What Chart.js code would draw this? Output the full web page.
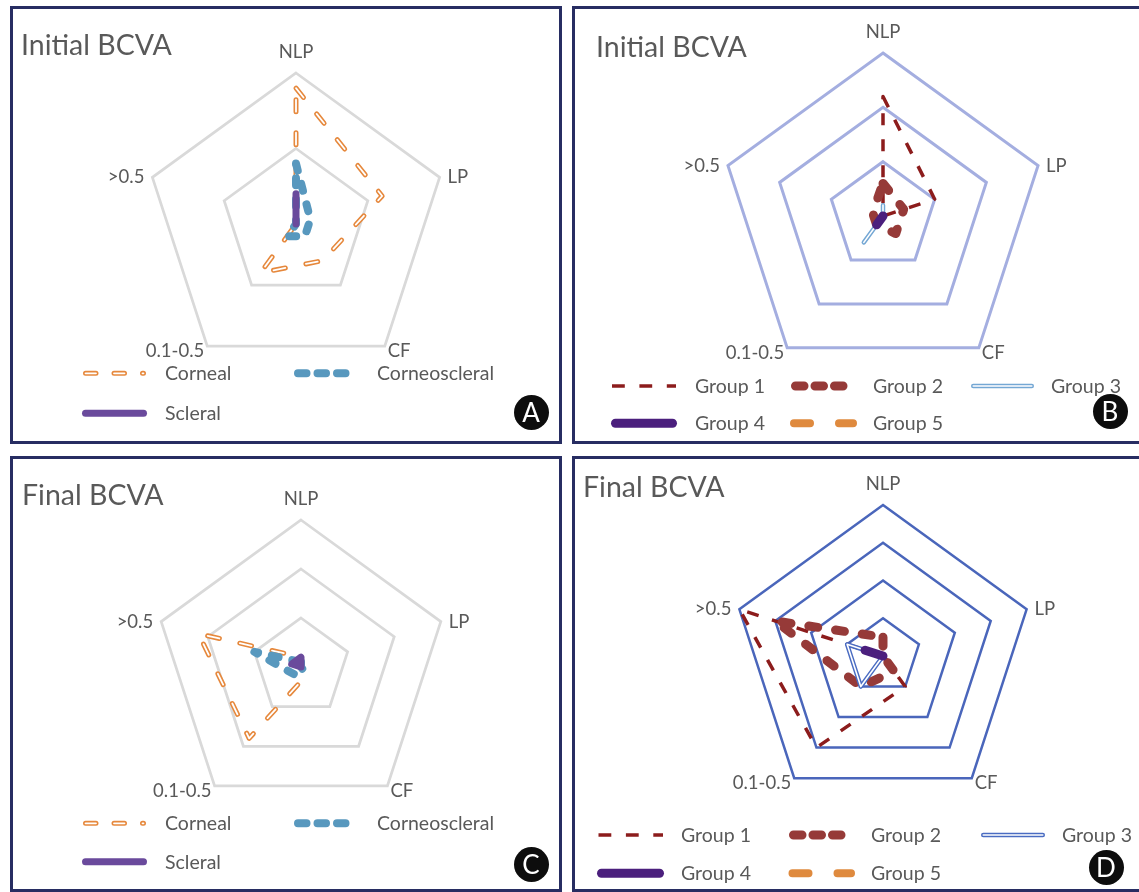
<!DOCTYPE html>
<html>
<head>
<meta charset="utf-8">
<title>BCVA radar charts</title>
<script src="https://cdn.jsdelivr.net/npm/chart.js@4.4.1/dist/chart.umd.min.js"></script>
<style>
  html, body { margin: 0; padding: 0; background: #fff; }
  body { width: 1139px; height: 892px; position: relative; overflow: hidden;
         font-family: Lato, "Noto Sans", sans-serif; color: #595959; }
  .panel { position: absolute; box-sizing: border-box; border: 3px solid #272d62; }
  canvas.radar { position: absolute; z-index: 1; }
  .title { position: absolute; z-index: 2; font-size: 28.5px; line-height: 36px; white-space: nowrap; }
  .leg { position: absolute; z-index: 2; font-size: 19.5px; line-height: 24px; white-space: nowrap; }
  .badge { position: absolute; z-index: 2; width: 35px; height: 35px; border-radius: 50%;
           background: #0d0d0d; color: #fff; font-size: 26px; line-height: 35px; text-align: center; }
</style>
</head>
<body>
<script>
// ---- data -------------------------------------------------------------
const axisLabels = ['NLP', 'LP', 'CF', '0.1-0.5', '>0.5'];

// patients per BCVA category, by injury zone
const cornealInitial       = [18, 12, 6, 8, 0];
const corneoscleralInitial = [8, 2, 2, 2, 0];
const scleralInitial       = [4, 0, 0, 0, 0];
const cornealFinal         = [2, 0, 2, 18, 22];
const corneoscleralFinal   = [1, 0, 1, 2, 10];
const scleralFinal         = [2, 0, 0, 0, 2];

// patients per BCVA category, by group
const group1Initial = [11, 5, 0, 0, 0];
const group2Initial = [3, 2, 2, 1, 1];
const group3Initial = [1, 0, 0, 3, 0];
const group4Initial = [0, 0, 0, 1, 0];
const group5Initial = [0, 0, 0, 0, 0];
const group1Final   = [0, 0, 2, 6, 8];
const group2Final   = [1, 0, 1, 2, 6];
const group3Final   = [0, 0, 0, 2, 2];
const group4Final   = [0, 0, 0, 0, 1];
const group5Final   = [0, 0, 0, 0, 0];

// ---- line styles ------------------------------------------------------
const styles = {
  corneal:       { color: '#e6883c', width: 5,   cap: 'round', dash: [12, 21], legendDash: [10.5, 18], inner: { color: '#ffffff', width: 1.8 } },
  corneoscleral: { color: '#5898be', width: 8,   cap: 'round', dash: [7, 14],  legendDash: [8.5, 11] },
  scleral:       { color: '#6a4a9c', width: 7,   cap: 'round', dash: [] },
  group1:        { color: '#8c1c1c', width: 3.5, cap: 'butt',  dash: [12, 14], legendDash: [12.8, 14.6] },
  group2:        { color: '#963a38', width: 9,   cap: 'round', dash: [9, 18],  legendDash: [8.5, 11] },
  group3B:       { color: '#74a7d4', width: 4.5, cap: 'round', dash: [], inner: { color: '#ffffff', width: 1.6 } },
  group3D:       { color: '#4a6cc2', width: 4.5, cap: 'round', dash: [], inner: { color: '#ffffff', width: 1.6 } },
  group4:        { color: '#4b1f7d', width: 9,   cap: 'round', dash: [] },
  group5:        { color: '#df8a3e', width: 8,   cap: 'round', dash: [16, 29], legendDash: [16, 29] }
};

// ---- panel layout (page pixels) ---------------------------------------
const panels = [
  { id: 'A', rect: { x: 10, y: 6, w: 552, h: 438 }, cx: 296, cy: 224, R: 151, max: 20, step: 10,
    grid: { color: '#d9d9d9', width: 2.75 },
    title: { text: 'Initial BCVA', x: 21, cy: 43.5 }, badge: { x: 531, y: 412 },
    series: [
      { label: 'Corneal', data: cornealInitial, style: styles.corneal, leg: { x0: 83, x1: 146, y: 373.3, tx: 165 } },
      { label: 'Corneoscleral', data: corneoscleralInitial, style: styles.corneoscleral, leg: { x0: 294, x1: 360, y: 373.3, tx: 377 } },
      { label: 'Scleral', data: scleralInitial, style: styles.scleral, leg: { x0: 82, x1: 147, y: 413.3, tx: 165 } }
    ] },
  { id: 'B', rect: { x: 572, y: 6, w: 572, h: 438 }, cx: 883, cy: 216, R: 163, max: 15, step: 5,
    grid: { color: '#a4aee0', width: 3 },
    title: { text: 'Initial BCVA', x: 596, cy: 46 }, badge: { x: 1110, y: 411 },
    series: [
      { label: 'Group 1', data: group1Initial, style: styles.group1, leg: { x0: 612, x1: 676, y: 386, tx: 695 } },
      { label: 'Group 2', data: group2Initial, style: styles.group2, leg: { x0: 791, x1: 857, y: 386, tx: 873 } },
      { label: 'Group 3', data: group3Initial, style: styles.group3B, leg: { x0: 971, x1: 1034, y: 386, tx: 1051 } },
      { label: 'Group 4', data: group4Initial, style: styles.group4, leg: { x0: 611, x1: 677, y: 423.3, tx: 695 } },
      { label: 'Group 5', data: group5Initial, style: styles.group5, leg: { x0: 790, x1: 857, y: 423.3, tx: 873 } }
    ] },
  { id: 'C', rect: { x: 10, y: 456, w: 552, h: 436 }, cx: 301, cy: 667, R: 147, max: 30, step: 10,
    grid: { color: '#d9d9d9', width: 2.75 },
    title: { text: 'Final BCVA', x: 22, cy: 494 }, badge: { x: 531, y: 864 },
    series: [
      { label: 'Corneal', data: cornealFinal, style: styles.corneal, leg: { x0: 83, x1: 146, y: 823.3, tx: 165 } },
      { label: 'Corneoscleral', data: corneoscleralFinal, style: styles.corneoscleral, leg: { x0: 294, x1: 360, y: 823.3, tx: 377 } },
      { label: 'Scleral', data: scleralFinal, style: styles.scleral, leg: { x0: 82, x1: 147, y: 861.7, tx: 165 } }
    ] },
  { id: 'D', rect: { x: 572, y: 456, w: 572, h: 436 }, cx: 883, cy: 656, R: 151, max: 8, step: 2,
    grid: { color: '#4a66bb', width: 2.5 },
    title: { text: 'Final BCVA', x: 583, cy: 486 }, badge: { x: 1106, y: 867 },
    series: [
      { label: 'Group 1', data: group1Final, style: styles.group1, leg: { x0: 598.5, x1: 663, y: 835, tx: 681 } },
      { label: 'Group 2', data: group2Final, style: styles.group2, leg: { x0: 789, x1: 855, y: 835, tx: 871 } },
      { label: 'Group 3', data: group3Final, style: styles.group3D, leg: { x0: 981, x1: 1045, y: 835, tx: 1062 } },
      { label: 'Group 4', data: group4Final, style: styles.group4, leg: { x0: 597, x1: 664, y: 873.3, tx: 681 } },
      { label: 'Group 5', data: group5Final, style: styles.group5, leg: { x0: 788.5, x1: 855, y: 873.3, tx: 871 } }
    ] }
];

// ---- helpers ----------------------------------------------------------
function addDiv(cls, text, left, top) {
  const d = document.createElement('div');
  d.className = cls;
  d.textContent = text;
  d.style.left = left + 'px';
  d.style.top = top + 'px';
  document.body.appendChild(d);
  return d;
}

// one dataset per series; double (compound) lines get a white core on top
function buildDatasets(series) {
  const out = [];
  const n = series.length;
  series.forEach((s, i) => {
    const st = s.style;
    const base = {
      label: s.label, data: s.data,
      borderColor: st.color, borderWidth: st.width, borderDash: st.dash,
      borderCapStyle: st.cap, borderJoinStyle: 'round',
      backgroundColor: 'transparent', fill: false,
      pointRadius: 0, pointHoverRadius: 0, pointHitRadius: 0,
      order: (n - i) * 2
    };
    out.push(base);
    if (st.inner) {
      out.push(Object.assign({}, base, {
        borderColor: st.inner.color, borderWidth: st.inner.width, order: (n - i) * 2 - 1
      }));
    }
  });
  return out;
}

function strokeSample(ctx, st, x0, x1, y) {
  const layers = [{ color: st.color, width: st.width }];
  if (st.inner) layers.push(st.inner);
  const inset = st.cap === 'butt' ? 0 : st.width / 2;
  layers.forEach(l => {
    ctx.save();
    ctx.strokeStyle = l.color;
    ctx.lineWidth = l.width;
    ctx.lineCap = st.cap;
    ctx.setLineDash(st.legendDash || st.dash || []);
    ctx.beginPath();
    ctx.moveTo(x0 + inset, y);
    ctx.lineTo(x1 - inset, y);
    ctx.stroke();
    ctx.restore();
  });
}

// category names at the pentagon vertices, Office-style placement
const vertexLabels = {
  id: 'vertexLabels',
  afterDatasetsDraw(chart, args, opts) {
    const r = chart.scales.r;
    const ctx = chart.ctx;
    const n = chart.data.labels.length;
    ctx.save();
    ctx.font = opts.font;
    ctx.fillStyle = opts.color;
    ctx.textBaseline = 'middle';
    chart.data.labels.forEach((lab, i) => {
      const p = r.getPointPosition(i, r.drawingArea);
      const a = i * 360 / n;
      let x = p.x, y = p.y, align = 'center';
      if (a === 0) { y -= opts.top; }
      else if (a < 90) { align = 'left'; x += opts.side; }
      else if (a < 180) { align = 'left'; x += opts.bottomX; y += opts.bottomY; }
      else if (a < 270) { align = 'right'; x -= opts.bottomX; y += opts.bottomY; }
      else { align = 'right'; x -= opts.side; }
      ctx.textAlign = align;
      ctx.fillText(lab, x, y);
    });
    ctx.restore();
  }
};

// legend line samples drawn with each series' own stroke style
const legendSamples = {
  id: 'legendSamples',
  afterDraw(chart, args, opts) {
    const ctx = chart.ctx;
    opts.series.forEach(s => {
      strokeSample(ctx, s.style, s.leg.x0 - opts.ox, s.leg.x1 - opts.ox, s.leg.y - opts.oy);
    });
  }
};

// ---- build the four panels --------------------------------------------
panels.forEach(p => {
  const rc = p.rect;
  const frame = document.createElement('div');
  frame.className = 'panel';
  Object.assign(frame.style, { left: rc.x + 'px', top: rc.y + 'px', width: rc.w + 'px', height: rc.h + 'px' });
  document.body.appendChild(frame);

  const cv = document.createElement('canvas');
  cv.className = 'radar';
  cv.width = rc.w; cv.height = rc.h;
  Object.assign(cv.style, { left: rc.x + 'px', top: rc.y + 'px', width: rc.w + 'px', height: rc.h + 'px' });
  document.body.appendChild(cv);

  const padL = p.cx - p.R - rc.x;
  const padT = p.cy - p.R - rc.y;

  new Chart(cv.getContext('2d'), {
    type: 'radar',
    data: { labels: axisLabels, datasets: buildDatasets(p.series) },
    options: {
      responsive: false,
      animation: false,
      events: [],
      layout: { padding: { left: padL, top: padT, right: rc.w - padL - 2 * p.R, bottom: rc.h - padT - 2 * p.R } },
      elements: { line: { tension: 0 } },
      plugins: {
        legend: { display: false },
        tooltip: { enabled: false },
        vertexLabels: { font: '18.5px Lato, "Noto Sans", sans-serif', color: '#595959',
                        top: 21, side: 8, bottomX: 3, bottomY: 5 },
        legendSamples: { series: p.series, ox: rc.x, oy: rc.y }
      },
      scales: {
        r: {
          min: 0, max: p.max,
          ticks: { display: false, stepSize: p.step },
          grid: { color: p.grid.color, lineWidth: p.grid.width },
          angleLines: { display: false },
          pointLabels: { display: false }
        }
      }
    },
    plugins: [vertexLabels, legendSamples]
  });

  addDiv('title', p.title.text, p.title.x, p.title.cy - 18);
  p.series.forEach(s => addDiv('leg', s.label, s.leg.tx, s.leg.y - 12));
  addDiv('badge', p.id, p.badge.x - 17.5, p.badge.y - 17.5);
});
</script>
</body>
</html>
